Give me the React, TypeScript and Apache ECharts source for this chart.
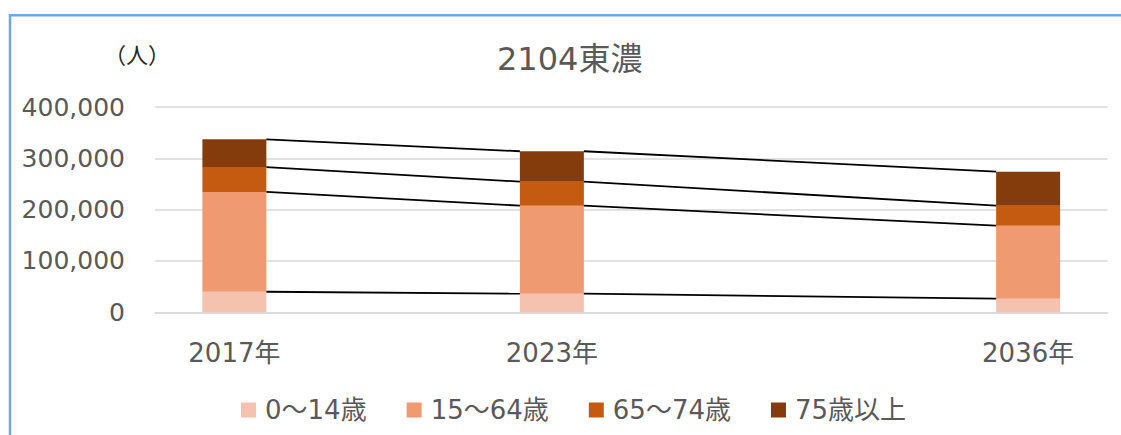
import React, { useEffect, useRef } from "react";
import * as echarts from "echarts";

const titleText = "2104東濃";
const unitText = "（人）";
const categories = ["2017年", "", "2023年", "", "", "2036年"];
const seriesNames = ["0～14歳", "15～64歳", "65～74歳", "75歳以上"];
const age0to14 = [40000, null, 36300, null, null, 26500];
const age15to64 = [194500, null, 171500, null, null, 142300];
const age65to74 = [48500, null, 46800, null, null, 39000];
const age75plus = [54000, null, 59200, null, null, 66200];
const colors = ["#F5C2B0", "#F09A71", "#C55A11", "#843C0C"];

const FONT = "'DejaVu Sans', 'Noto Sans CJK JP', sans-serif";
const BAR_RATIO = 0.403;

export default function App() {
  const ref = useRef<HTMLDivElement>(null);
  useEffect(() => {
    if (!ref.current) return;
    const chart = echarts.init(ref.current, null, { renderer: "svg" });
    const stacks = [age0to14, age15to64, age65to74, age75plus];
    const present = categories.map((_, i) => i).filter((i) => age0to14[i] != null);
    const cum = (i: number, level: number) => {
      let s = 0;
      for (let k = 0; k <= level; k++) s += (stacks[k][i] as number) || 0;
      return s;
    };
    const lineData: number[][] = [];
    for (let p = 0; p < present.length - 1; p++) {
      const a = present[p];
      const b = present[p + 1];
      for (let lv = 0; lv < 4; lv++) lineData.push([a, b, cum(a, lv), cum(b, lv)]);
    }
    chart.setOption({
      animation: false,
      backgroundColor: "#ffffff",
      textStyle: { fontFamily: FONT },
      title: {
        text: titleText,
        left: 492,
        top: 38,
        textStyle: { fontFamily: FONT, fontSize: 32, fontWeight: "normal", color: "#595959" },
      },
      graphic: [
        {
          type: "rect",
          shape: { x: 10, y: 15.3, width: 1300, height: 600 },
          style: { fill: "none", stroke: "#6FA8DE", lineWidth: 2.5 },
          silent: true,
        },
        {
          type: "text",
          x: 104,
          y: 55,
          style: {
            text: unitText,
            font: "22px " + FONT,
            fill: "#262626",
            textVerticalAlign: "middle",
          },
        },
      ],
      legend: {
        data: seriesNames,
        left: 236,
        top: 392,
        icon: "rect",
        itemWidth: 15,
        itemHeight: 15,
        itemGap: 40,
        textStyle: {
          fontFamily: FONT,
          fontSize: 26,
          color: "#595959",
          padding: [0, 0, 0, 4],
        },
      },
      grid: { left: 155, right: 13.5, top: 107, bottom: 122.7, containLabel: false },
      xAxis: {
        type: "category",
        data: categories,
        axisLine: { lineStyle: { color: "#D9D9D9", width: 1.5 } },
        axisTick: { show: false },
        axisLabel: { interval: 0, margin: 28, fontFamily: FONT, fontSize: 26, color: "#595959" },
      },
      yAxis: {
        type: "value",
        min: 0,
        max: 400000,
        interval: 100000,
        axisLine: { show: false },
        axisTick: { show: false },
        splitLine: { lineStyle: { color: "#D9D9D9", width: 1.5 } },
        axisLabel: {
          margin: 30,
          fontFamily: FONT,
          fontSize: 25,
          color: "#595959",
          formatter: (v: number) => v.toLocaleString("en-US"),
        },
      },
      series: [
        ...stacks.map((d, k) => ({
          name: seriesNames[k],
          type: "bar",
          stack: "total",
          barWidth: BAR_RATIO * 100 + "%",
          itemStyle: { color: colors[k] },
          data: d,
          z: 3,
        })),
        {
          type: "custom",
          name: "series-lines",
          data: lineData,
          encode: { x: [0, 1], y: [2, 3] },
          z: 4,
          silent: true,
          renderItem: (params: any, api: any) => {
            const p1 = api.coord([api.value(0), api.value(2)]);
            const p2 = api.coord([api.value(1), api.value(3)]);
            const bw = api.size([1, 0])[0] * BAR_RATIO;
            return {
              type: "line",
              shape: { x1: p1[0] + bw / 2, y1: p1[1], x2: p2[0] - bw / 2, y2: p2[1] },
              style: { stroke: "#000000", lineWidth: 1.8 },
            };
          },
        },
      ],
    });
    return () => chart.dispose();
  }, []);
  return (
    <div
      ref={ref}
      style={{ position: "fixed", left: 0, top: 0, width: 1121, height: 435 }}
    />
  );
}
